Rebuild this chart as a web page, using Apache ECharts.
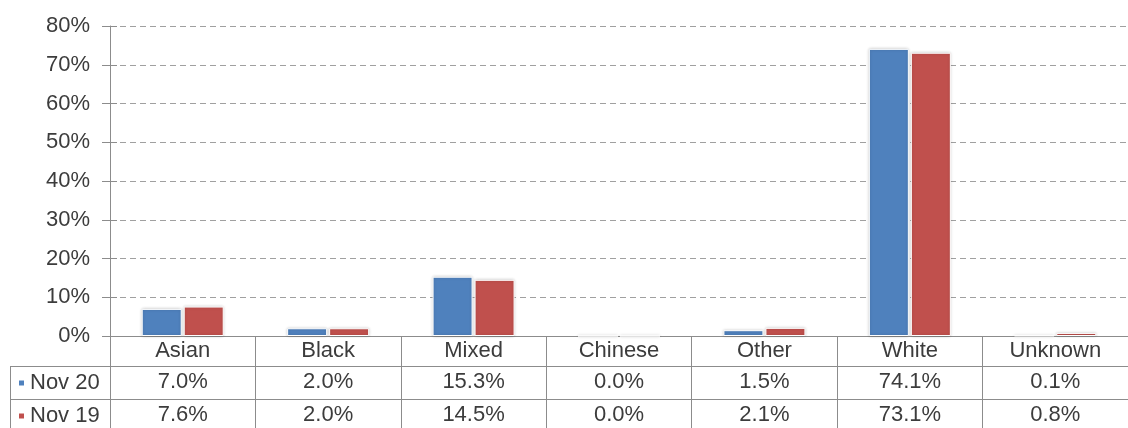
<!DOCTYPE html>
<html>
<head>
<meta charset="utf-8">
<script src="https://cdn.jsdelivr.net/npm/echarts@6/dist/echarts.min.js"></script>
<style>
html,body{margin:0;padding:0;background:#fff;}
#chart{width:1128px;height:428px;}
</style>
</head>
<body>
<div id="chart"></div>
<script>
var categories = ['Asian', 'Black', 'Mixed', 'Chinese', 'Other', 'White', 'Unknown'];
var seriesNames = ['Nov 20', 'Nov 19'];
var nov20 = [7.0, 2.0, 15.3, 0.0, 1.5, 74.1, 0.1];
var nov19 = [7.6, 2.0, 14.5, 0.0, 2.1, 73.1, 0.8];
var yTicks = { min: 0, max: 80, interval: 10 };

var FONT = 'Liberation Sans, Arial, sans-serif';
var TXT = '#3c3c3c';
var LINE = '#8c8c8c';
var FS = 22;

function pct(v) { return v.toFixed(1) + '%'; }

var chart = echarts.init(document.getElementById('chart'), null, { renderer: 'canvas' });
var option = {
  animation: false,
  backgroundColor: '#ffffff',
  textStyle: { fontFamily: FONT },
  grid: { left: 110, right: -12, top: 26, bottom: 92, containLabel: false },
  legend: {
    orient: 'vertical',
    left: 17,
    top: 372,
    itemWidth: 7,
    itemHeight: 7,
    itemGap: 11,
    icon: 'rect',
    padding: 0,
    textStyle: { fontFamily: FONT, fontSize: FS, color: TXT },
    data: seriesNames
  },
  xAxis: [
    {
      type: 'category', data: categories, position: 'bottom', offset: 0,
      axisLine: { onZero: false, lineStyle: { color: LINE, width: 1 } },
      axisTick: { show: true, interval: 0, length: 30, lineStyle: { color: LINE } },
      axisLabel: { interval: 0, margin: 15, verticalAlign: 'middle', fontSize: FS, color: TXT, fontFamily: FONT }
    },
    {
      type: 'category', data: categories, position: 'bottom', offset: 30,
      axisLine: { onZero: false, lineStyle: { color: LINE, width: 1 } },
      axisTick: { show: true, interval: 0, length: 33, lineStyle: { color: LINE } },
      axisLabel: { interval: 0, margin: 16, verticalAlign: 'middle', fontSize: FS, color: TXT, fontFamily: FONT,
        formatter: function (v, i) { return pct(nov20[i]); } }
    },
    {
      type: 'category', data: categories, position: 'bottom', offset: 63,
      axisLine: { onZero: false, lineStyle: { color: LINE, width: 1 } },
      axisTick: { show: true, interval: 0, length: 33, lineStyle: { color: LINE } },
      axisLabel: { interval: 0, margin: 16, verticalAlign: 'middle', fontSize: FS, color: TXT, fontFamily: FONT,
        formatter: function (v, i) { return pct(nov19[i]); } }
    }
  ],
  yAxis: [
    {
      type: 'value', min: yTicks.min, max: yTicks.max, interval: yTicks.interval, position: 'left',
      axisLine: { show: true, onZero: false, lineStyle: { color: LINE, width: 1 } },
      axisTick: { show: true, length: 8, lineStyle: { color: LINE } },
      axisLabel: { margin: 20, fontSize: FS, color: TXT, fontFamily: FONT, formatter: '{value}%' },
      splitLine: { show: true, lineStyle: { color: '#a0a0a0', width: 1, type: [6, 4] } }
    },
    {
      type: 'value', min: yTicks.min, max: yTicks.max, interval: yTicks.interval, position: 'left',
      axisLine: { show: false, onZero: false },
      axisTick: { show: true, inside: true, length: 7, lineStyle: { color: LINE } },
      axisLabel: { show: false },
      splitLine: { show: false }
    }
  ],
  series: [
    {
      name: seriesNames[0], type: 'bar', data: nov20, xAxisIndex: 0, yAxisIndex: 0,
      barWidth: 40, barGap: '5%',
      itemStyle: { color: '#4F81BD', borderColor: '#ffffff', borderWidth: 1,
        shadowBlur: 3, shadowColor: 'rgba(0,0,0,0.2)' }
    },
    {
      name: seriesNames[1], type: 'bar', data: nov19, xAxisIndex: 0, yAxisIndex: 0,
      barWidth: 40, barGap: '5%',
      itemStyle: { color: '#C0504D', borderColor: '#ffffff', borderWidth: 1,
        shadowBlur: 3, shadowColor: 'rgba(0,0,0,0.2)' }
    }
  ],
  graphic: [
    { type: 'line', shape: { x1: 10, y1: 366.5, x2: 110, y2: 366.5 }, style: { stroke: LINE, lineWidth: 1 } },
    { type: 'line', shape: { x1: 10, y1: 399.5, x2: 110, y2: 399.5 }, style: { stroke: LINE, lineWidth: 1 } },
    { type: 'line', shape: { x1: 10.5, y1: 366, x2: 10.5, y2: 428 }, style: { stroke: LINE, lineWidth: 1 } }
  ]
};
chart.setOption(option);
</script>
</body>
</html>
